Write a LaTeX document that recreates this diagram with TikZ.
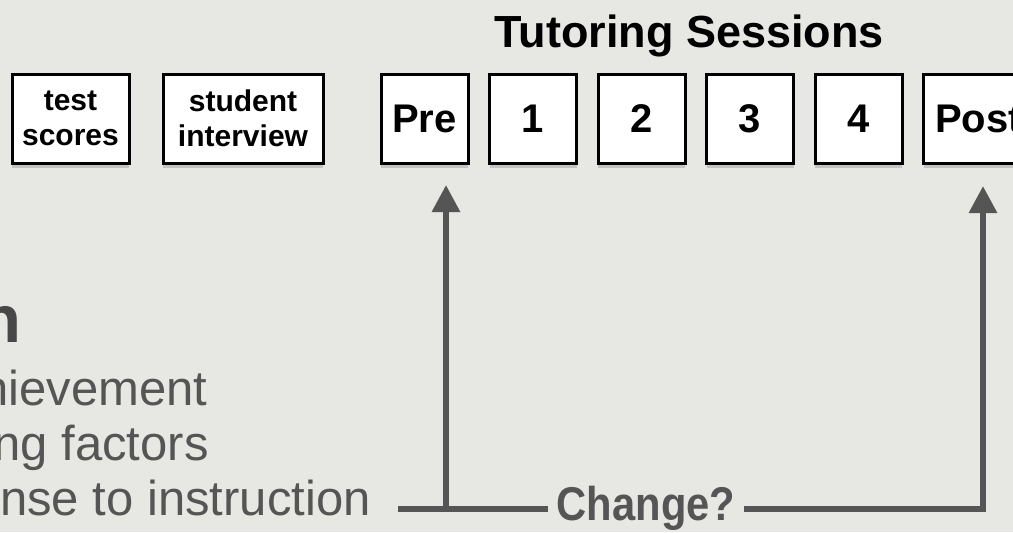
\documentclass[tikz,border=0pt]{standalone}
\usepackage{fontspec}
\setmainfont{Liberation Sans}
\newfontfamily\condfont[FakeStretch=0.88]{Liberation Sans}
\usetikzlibrary{arrows.meta,shadows,positioning}
\tikzset{% change default arrow tips
    >={Triangle[width=13.5pt,length=13.5pt]}
}
\definecolor{slidebg}{RGB}{231,231,227}
\definecolor{inkgray}{RGB}{85,85,85}

\begin{document}
\begin{tikzpicture}[x=0.5pt,y=-0.5pt]
    \newcommand{\rowy}{118.5} % vertical centre of the boxes
    \newcommand{\pitch}{108.5} % distance between the session boxes
    \newcommand{\firstx}{424.5}
    \newcommand{\liney}{509} % height of the bottom line

    % set the styles of the boxes and texts
    \tikzset{
        slidebox/.style={
            draw=black,
            line width=1.5pt,
            fill=white,
            inner sep=0pt,
            minimum height=44.5pt,
            drop shadow={opacity=0.35, shadow xshift=0pt, shadow yshift=-2.5pt}
            },
        infobox/.style={
            slidebox,
            align=center,
            font=\bfseries\fontsize{15}{17.5}\selectfont
            },
        sessbox/.style={
            slidebox,
            minimum width=43.5pt,
            font=\bfseries\fontsize{20}{24}\selectfont
            },
        bodytext/.style={
            text=inkgray,
            inner sep=0pt,
            anchor=base east,
            font=\fontsize{24.5}{29}\selectfont
            },
        conn/.style={
            draw=inkgray,
            line width=3pt
            }
    }

    % background
    \fill[slidebg] (0,0) rectangle (1013,532);
    \useasboundingbox (0,0) rectangle (1013,532);

    % boxes before the sessions
    \node[infobox, minimum width=58.5pt] (scores) at (70.5,\rowy) {test\\scores};
    \node[infobox, minimum width=80pt] (interview) at (243,\rowy) {student\\interview};

    % session boxes
    \node[font=\bfseries\fontsize{22.5}{27}\selectfont, anchor=base] (title) at (689,47) {Tutoring Sessions};
    \node[sessbox] (pre) at (\firstx,\rowy) {Pre};
    \foreach \i in {1,...,4}
        \node[sessbox] (s\i) at (\firstx+\i*\pitch,\rowy) {\i};
    \node[sessbox, minimum width=55pt] (post) at (\firstx+5*\pitch+11.5,\rowy) {Post};

    % texts on the left
    \node[bodytext, font=\bfseries\fontsize{33.5}{40}\selectfont, text=inkgray!85!black] (head) at (22,342) {n};
    \node[bodytext] (ach) at (208,405) {hievement};
    \node[bodytext] (fac) at (209,460) {ng factors};
    \node[bodytext] (resp) at (371,515) {nse to instruction};

    % bottom line and arrows
    \node[text=inkgray, inner xsep=4pt, inner ysep=0pt, anchor=base, font=\condfont\bfseries\fontsize{23.7}{28}\selectfont] (change) at (646,520) {Change?};
    \coordinate (lineStart) at (398,\liney);
    \coordinate (preFoot) at (446,\liney);
    \coordinate (preTip) at (446,185);
    \coordinate (postFoot) at (983,\liney);
    \coordinate (postTip) at (983,186);

    \draw[conn] (lineStart) -- (lineStart -| change.west);
    \draw[conn] (lineStart -| change.east) -- (postFoot);
    \draw[conn, ->] (preFoot) -- (preTip);
    \draw[conn, ->] ([yshift=-1.5pt]postFoot) -- (postTip);
\end{tikzpicture}
\end{document}
